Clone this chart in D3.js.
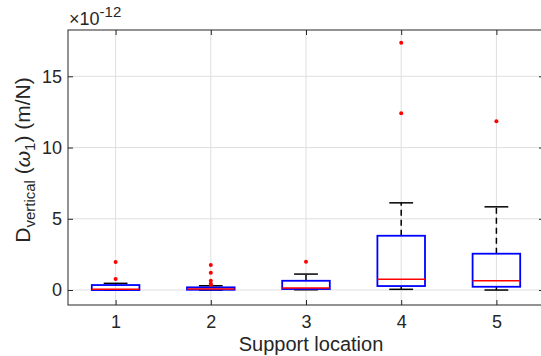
<!DOCTYPE html>
<html>
<head>
<meta charset="utf-8">
<script src="https://cdn.jsdelivr.net/npm/d3@7"></script>
<style>
  body { margin: 0; background: #fff; }
  text { font-family: "Liberation Sans", Arial, sans-serif; fill: #262626; }
</style>
</head>
<body>
<svg id="chart" width="541" height="356"></svg>
<script>
// values are in units of 1e-12 m/N
const locations = ['1', '2', '3', '4', '5'];
const whiskLo = [0.0, 0.0, 0.02, 0.05, 0.0];
const q1 = [0.0, 0.02, 0.07, 0.28, 0.23];
const medians = [0.05, 0.07, 0.14, 0.75, 0.65];
const q3 = [0.35, 0.19, 0.65, 3.81, 2.55];
const whiskHi = [0.47, 0.30, 1.12, 6.12, 5.84];
const outliers = [
  [0.77, 1.96],
  [0.35, 0.45, 0.65, 1.22, 1.75],
  [1.98],
  [12.41, 17.35],
  [11.85]
];
const yTicks = [0, 5, 10, 15];

const svg = d3.select('#chart');
const margin = { top: 30, left: 68 };
const plotW = 476;
const plotH = 275;

const x = d3.scaleLinear().domain([0.5, 5.5]).range([margin.left, margin.left + plotW]);
const y = d3.scaleLinear().domain([-1.05, 18.25]).range([margin.top + plotH, margin.top]);

const boxes = locations.map((loc, i) => ({
  pos: i + 1, loc,
  lo: whiskLo[i], q1: q1[i], med: medians[i], q3: q3[i], hi: whiskHi[i],
  out: outliers[i]
}));

// grid
const g = svg.append('g');
g.selectAll('.vgrid').data(boxes).join('line')
  .attr('x1', d => x(d.pos)).attr('x2', d => x(d.pos))
  .attr('y1', margin.top).attr('y2', margin.top + plotH)
  .attr('stroke', '#dfdfdf').attr('stroke-width', 1);
g.selectAll('.hgrid').data(yTicks).join('line')
  .attr('x1', margin.left).attr('x2', margin.left + plotW)
  .attr('y1', d => y(d)).attr('y2', d => y(d))
  .attr('stroke', '#dfdfdf').attr('stroke-width', 1);

// whiskers (dashed)
const bw = 0.25;
g.selectAll('.wup').data(boxes).join('line')
  .attr('x1', d => x(d.pos)).attr('x2', d => x(d.pos))
  .attr('y1', d => y(d.q3)).attr('y2', d => y(d.hi))
  .attr('stroke', '#000').attr('stroke-width', 1.5).attr('stroke-dasharray', '6,4');
g.selectAll('.wdn').data(boxes).join('line')
  .attr('x1', d => x(d.pos)).attr('x2', d => x(d.pos))
  .attr('y1', d => y(d.q1)).attr('y2', d => y(d.lo))
  .attr('stroke', '#000').attr('stroke-width', 1.5).attr('stroke-dasharray', '6,4');
// caps
['hi', 'lo'].forEach(k => {
  g.selectAll('.cap-' + k).data(boxes).join('line')
    .attr('x1', d => x(d.pos - bw / 2)).attr('x2', d => x(d.pos + bw / 2))
    .attr('y1', d => y(d[k])).attr('y2', d => y(d[k]))
    .attr('stroke', '#000').attr('stroke-width', 1.5);
});

// boxes
g.selectAll('.box').data(boxes).join('rect')
  .attr('x', d => x(d.pos - bw)).attr('width', d => x(d.pos + bw) - x(d.pos - bw))
  .attr('y', d => y(d.q3)).attr('height', d => Math.max(y(d.q1) - y(d.q3), 0.5))
  .attr('fill', 'none').attr('stroke', '#0000ff').attr('stroke-width', 1.8);
g.selectAll('.med').data(boxes).join('line')
  .attr('x1', d => x(d.pos - bw)).attr('x2', d => x(d.pos + bw))
  .attr('y1', d => y(d.med)).attr('y2', d => y(d.med))
  .attr('stroke', '#ff0000').attr('stroke-width', 1.5);

// outliers
const outPts = boxes.flatMap(d => d.out.map(v => ({ pos: d.pos, v })));
g.selectAll('.out').data(outPts).join('circle')
  .attr('cx', d => x(d.pos)).attr('cy', d => y(d.v)).attr('r', 2)
  .attr('fill', '#ff0000');

// axes frame
const axisColor = '#262626';
svg.append('rect')
  .attr('x', margin.left).attr('y', margin.top)
  .attr('width', plotW).attr('height', plotH)
  .attr('fill', 'none').attr('stroke', axisColor).attr('stroke-width', 1);

const xAxis = svg.append('g').attr('transform', `translate(0,${margin.top + plotH})`)
  .call(d3.axisBottom(x).tickValues(boxes.map(d => d.pos)).tickFormat((d, i) => locations[i])
    .tickSizeInner(-5).tickSizeOuter(0).tickPadding(10));
const xTop = svg.append('g').attr('transform', `translate(0,${margin.top})`)
  .call(d3.axisTop(x).tickValues(boxes.map(d => d.pos)).tickFormat('').tickSizeInner(-5).tickSizeOuter(0));
const yAxis = svg.append('g').attr('transform', `translate(${margin.left},0)`)
  .call(d3.axisLeft(y).tickValues(yTicks).tickSizeInner(-5).tickSizeOuter(0).tickPadding(6));
const yRight = svg.append('g').attr('transform', `translate(${margin.left + plotW},0)`)
  .call(d3.axisRight(y).tickValues(yTicks).tickFormat('').tickSizeInner(-5).tickSizeOuter(0));

[xAxis, xTop, yAxis, yRight].forEach(a => {
  a.select('.domain').remove();
  a.selectAll('.tick line').attr('stroke', axisColor);
  a.selectAll('.tick text').attr('font-size', 18).attr('fill', axisColor)
    .style('font-family', '"Liberation Sans", Arial, sans-serif');
});

// x label
svg.append('text')
  .attr('x', 311).attr('y', 351)
  .attr('text-anchor', 'middle').attr('font-size', 20)
  .text('Support location');

// y label with subscripts
const yl = svg.append('text')
  .attr('transform', 'translate(30,160) rotate(-90)')
  .attr('text-anchor', 'middle').attr('font-size', 21);
yl.append('tspan').text('D');
yl.append('tspan').attr('font-size', 15).attr('dy', 5).text('vertical');
yl.append('tspan').attr('dy', -5).text(' (');
yl.append('tspan').attr('font-style', 'italic').text('ω');
yl.append('tspan').attr('font-size', 15).attr('dy', 5).text('1');
yl.append('tspan').attr('dy', -5).text(') (m/N)');

// exponent label
const ex = svg.append('text').attr('x', 69).attr('y', 25).attr('font-size', 18);
ex.append('tspan').text('×10');
ex.append('tspan').attr('font-size', 15).attr('dy', -8).text('-12');
</script>
</body>
</html>
